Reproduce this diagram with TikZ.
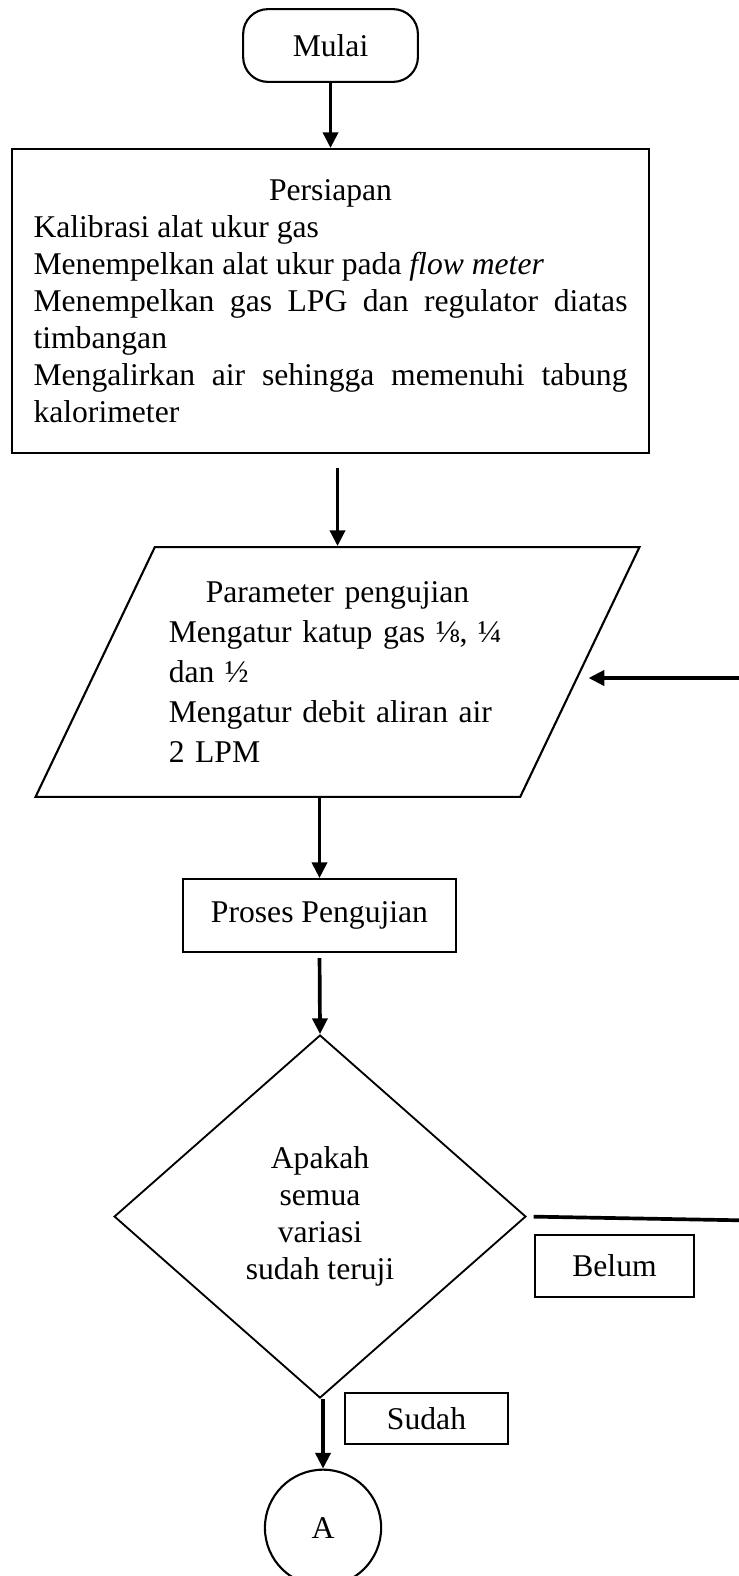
\documentclass[tikz,border=0pt]{standalone}
\usepackage{fontspec}
\setmainfont{Liberation Serif}
\usetikzlibrary{shapes.geometric, arrows.meta}
\tikzset{
  startbox/.style={rectangle, rounded corners=0.33cm, draw, line width=0.8pt,
                minimum width=2.33cm, minimum height=0.97cm,
                font=\fontsize{12}{14}\selectfont},
  prepbox/.style={rectangle, draw, line width=0.8pt,
                minimum width=8.49cm, minimum height=4.05cm,
                text width=7.92cm, align=justify,
                font=\fontsize{12}{14}\selectfont},
  inputbox/.style={trapezium, trapezium left angle=58.7, trapezium right angle=121.3,
                trapezium stretches=true, draw, line width=0.8pt,
                minimum width=8.07cm, minimum height=3.33cm, inner sep=0pt,
                text width=4.5cm, align=left,
                font=\fontsize{12}{15.2}\selectfont},
  procbox/.style={rectangle, draw, line width=0.8pt,
                minimum width=3.64cm, minimum height=0.97cm,
                font=\fontsize{12}{14}\selectfont},
  decbox/.style={diamond, draw, line width=0.7pt,
                minimum width=5.49cm, minimum height=4.84cm, inner sep=0pt,
                align=center, font=\fontsize{12}{14}\selectfont},
  tagbox/.style={rectangle, draw, line width=0.8pt, inner sep=0pt,
                font=\fontsize{12}{14}\selectfont},
  connbox/.style={circle, draw, line width=0.8pt, minimum size=1.55cm,
                font=\fontsize{12}{14}\selectfont},
  flowarrow/.style={-{Triangle[length=0.21cm, width=0.2cm]}, line width=1.4pt, #1},
  flowline/.style={line width=1.4pt},
}

\begin{document}
\begin{tikzpicture}
    % Coordinate map (1 cm = 75 px of the page):
    % (start)  at (4.41, -0.61)  -- rounded box  -- "Mulai"
    % (prep)   at (4.41, -4.01)  -- 8.49 x 4.05  -- "Persiapan"
    % (param)  at (4.50, -8.96)  -- parallelogram -- "Parameter pengujian"
    % (proses) at (4.26, -12.21) -- 3.64 x 0.97  -- "Proses Pengujian"
    % (dec)    at (4.27, -16.22) -- diamond      -- "Apakah ..."
    % (conn)   at (4.31, -20.37) -- circle       -- "A"
    \useasboundingbox (0, 0) rectangle (9.853, -21.013);

    \node[startbox] (start) at (4.407, -0.607) {Mulai};
    \node[prepbox] (prep) at (4.407, -4.013) {%
      \makebox[\linewidth]{Persiapan}\\
      Kalibrasi alat ukur gas\\
      Menempelkan alat ukur pada \textit{flow meter}\\
      Menempelkan gas LPG dan regulator diatas timbangan\\
      Mengalirkan air sehingga memenuhi tabung kalorimeter};
    \node[inputbox] (param) at (4.5, -8.96) {%
      \makebox[\linewidth]{Parameter pengujian}\\
      Mengatur katup gas ⅛, ¼\\
      dan ½\\
      Mengatur debit aliran air\\
      2 LPM};
    \node[procbox] (proses) at (4.26, -12.207) {Proses Pengujian};
    \node[decbox] (dec) at (4.267, -16.22) {Apakah\\semua\\variasi\\sudah teruji};
    \node[connbox] (conn) at (4.307, -20.37) {A};

    \node[tagbox, minimum width=2.12cm, minimum height=0.83cm] (belum) at (8.193, -16.88) {Belum};
    \node[tagbox, minimum width=2.17cm, minimum height=0.68cm] (sudah) at (5.687, -18.913) {Sudah};

    \coordinate (loopout) at (9.853, -16.27);
    \coordinate (loopin) at (9.853, -9.04);

    \draw[flowarrow={}] (start.south) -- (prep.north);
    \draw[flowarrow={shorten <=0.19cm}] (prep.south -| param.north) -- (param.north);
    \draw[flowarrow={}] (param.south -| proses.north) -- (proses.north);
    \draw[flowarrow={shorten <=0.07cm}] (proses.south) -- (dec.north);
    \draw[flowarrow={}] (dec.south -| conn.north) -- (conn.north);

    \draw[flowline, shorten <=0.09cm] (dec.east) -- (loopout);
    \draw[flowarrow={shorten >=0.1cm}] (loopin) -- (loopin -| param.east);
\end{tikzpicture}
\end{document}
